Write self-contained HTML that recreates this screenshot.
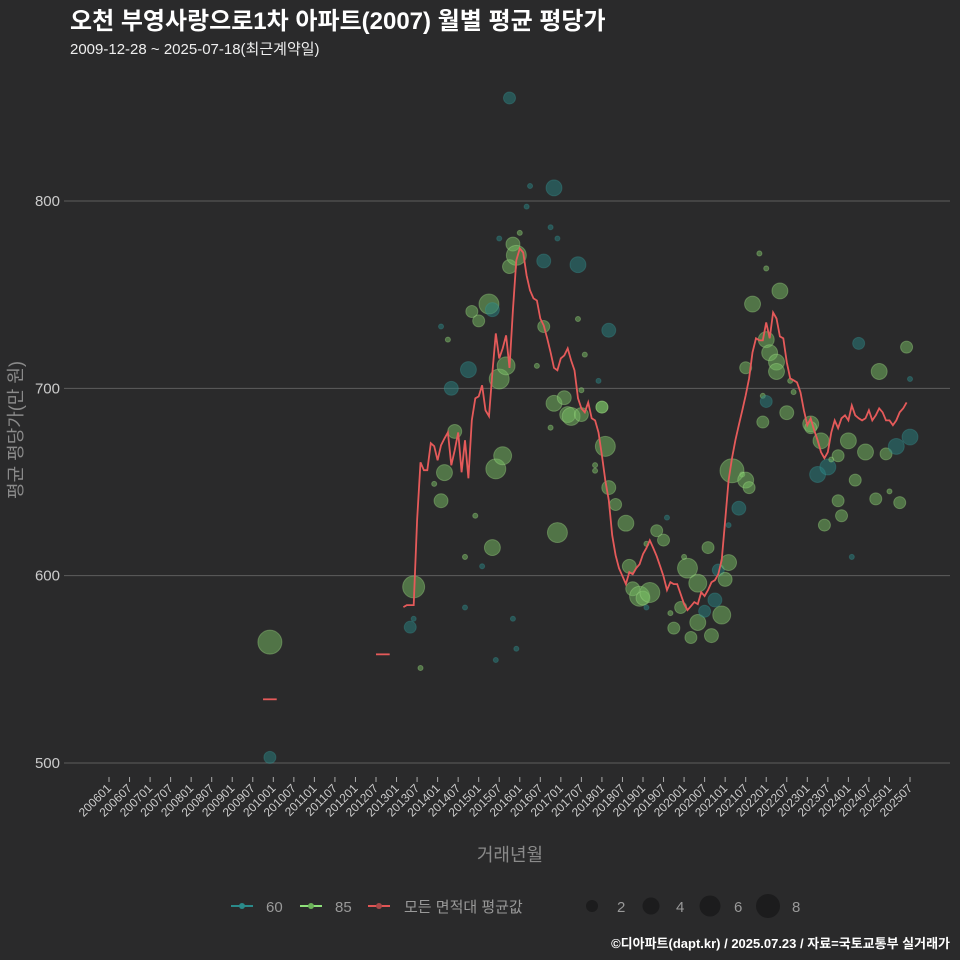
<!DOCTYPE html>
<html><head><meta charset="utf-8"><style>
html,body{margin:0;padding:0;background:#2a2a2b;}
svg{display:block;font-family:"Liberation Sans","Noto Sans CJK KR",sans-serif;}
</style></head><body>
<svg id="c" width="960" height="960" viewBox="0 0 960 960">
<rect x="0" y="0" width="960" height="960" fill="#2a2a2b"/>
<text x="70" y="29" fill="#ffffff" font-size="24" font-weight="bold">오천 부영사랑으로1차 아파트(2007) 월별 평균 평당가</text>
<text x="70" y="54" fill="#eeeeee" font-size="15">2009-12-28 ~ 2025-07-18(최근계약일)</text>
<text transform="translate(22,430) rotate(-90)" text-anchor="middle" fill="#8a8a8a" font-size="18">평균 평당가(만 원)</text>
<text x="510" y="861" text-anchor="middle" fill="#8a8a8a" font-size="18">거래년월</text>
<g id="grid"></g>
<g id="xaxis"></g>
<g id="bubbles"></g>
<g id="lines"></g>
<g>
 <g><line x1="231" y1="906" x2="253" y2="906" stroke="#2a8a8a" stroke-width="2"/><circle cx="242" cy="906" r="3" fill="#2a8a8a"/><text x="266" y="912" fill="#999" font-size="15">60</text></g>
 <g><line x1="300" y1="906" x2="322" y2="906" stroke="#8ee07a" stroke-width="2"/><circle cx="311" cy="906" r="3" fill="#6cb35a"/><text x="335" y="912" fill="#999" font-size="15">85</text></g>
 <g><line x1="368" y1="906" x2="390" y2="906" stroke="#e05555" stroke-width="2"/><circle cx="379" cy="906" r="3" fill="#a84848"/><text x="404" y="912" fill="#999" font-size="15">모든 면적대 평균값</text></g>
 <g>
  <circle cx="592" cy="906" r="6" fill="#1c1c1d"/><text x="617" y="912" fill="#999" font-size="15">2</text>
  <circle cx="651" cy="906" r="8.5" fill="#1c1c1d"/><text x="676" y="912" fill="#999" font-size="15">4</text>
  <circle cx="710" cy="906" r="10.5" fill="#1c1c1d"/><text x="734" y="912" fill="#999" font-size="15">6</text>
  <circle cx="768" cy="906" r="12" fill="#1c1c1d"/><text x="792" y="912" fill="#999" font-size="15">8</text>
 </g>
</g>
<text x="950" y="948" text-anchor="end" fill="#ffffff" font-size="13" font-weight="bold">©디아파트(dapt.kr) / 2025.07.23 / 자료=국토교통부 실거래가</text>
</svg>
<script>
const yTicks=[500,600,700,800];
const lineStart=86;
const lineValues=[583.2,584.3,584.3,584.3,629.6,660.5,656.3,656.3,670.7,669.1,661.6,669.6,673.3,676.5,658.9,666.9,676.5,655.2,672.3,652,682.9,694.7,695.7,701.6,688.3,685.1,708.5,729.3,716,721.3,728.3,710.9,741.6,768.3,774.7,772.5,760.3,752.3,748,746.9,737.3,733.6,726.7,719.2,710.9,709.6,716,717.6,721.3,714.9,709.6,694.7,689.3,687.2,692.5,684,682.9,676.5,664.3,650.9,640.3,621.6,610.9,604,599.7,595.5,601.9,600.8,604,606.1,611.5,614.7,618.9,614.7,610.4,605.1,599.7,592.3,596.5,595.5,595.5,590.1,584.8,581.6,583.7,585.9,584.8,591.2,589.1,592.3,596.5,597.6,600.8,608.3,629.6,650.9,662.7,672.3,680.3,688.3,696.3,705.3,719.2,726.7,725.6,725.6,735.2,726.7,740.5,737.3,727.7,726.7,713.9,705.3,704.3,703.2,697.9,688.3,680.3,684,677.6,672.3,665.9,662.7,665.9,676.5,682.9,678.7,684,685.6,682.9,690.9,685.6,684,682.9,684,688.3,682.9,685.6,689.3,687.2,682.9,682.9,680.3,682.9,687.2,689.3,692.5];
const segMonths=[[45,49],[78,82]];
const segValues=[534,558];
const bMonth=[47,47,89,88,89,91,95,97,98,97,99,100,101,104,104,105,106,108,107,109,111,112,112,113,114,113,114,115,116,117,117,118,119,118,119,120,122,123,125,127,127,129,130,130,131,131,129,133,134,135,137,137,138,138,139,142,142,143,144,146,144,145,146,148,151,152,153,155,156,157,158,157,160,162,163,164,165,167,168,169,170,172,172,174,175,176,177,178,179,180,181,181,184,182,185,186,186,187,188,190,191,191,192,192,192,193,195,196,195,198,199,200,205,205,207,208,209,210,211,213,213,214,216,217,218,219,221,224,225,227,228,230,231,233,234,234];
const bValue=[564.5,503,594,572.5,577,550.7,649,640,655,733,726,700,677,610,583,710,741,736,632,605,745,742,615,657,705,555,780,664,712,855,765,777,771,577,561,783,797,808,712,768,733,786,692,807,623,780,679,695,686,685,766,737,699,686,718,659,656,704,690,731,690,669,647,638,628,605,593,589,588,583,591,617,624,619,631,580,572,583,610,604,567,596,575,581,615,568,587,603,579,598,607,627,636,656,654,711,651,647,745,772,682,696,764,693,726,719,714,752,709,687,704,698,681,679,654,672,627,658,662,640,664,632,672,610,651,724,666,641,709,665,645,669,639,722,674,705];
const bSize=[6.8,1.7,5.7,1.7,0.3,0.3,0.3,2.3,3,0.3,0.3,2.3,2.3,0.3,0.3,3,1.7,1.7,0.3,0.3,4.7,2.3,3,4.7,4.7,0.3,0.3,3.8,3.8,1.7,2.3,2.3,4.7,0.3,0.3,0.3,0.3,0.3,0.3,2.3,1.7,0.3,3,3,4.7,0.3,0.3,2.3,3,3.8,3,0.3,0.3,2.3,0.3,0.3,0.3,0.3,1.7,2.3,1.7,4.7,2.3,1.7,3,2.3,2.3,4.7,2.3,0.3,4.7,0.3,1.7,1.7,0.3,0.3,1.7,1.7,0.3,4.7,1.7,3.8,3,1.7,1.7,2.3,2.3,1.7,3.8,2.3,3,0.3,2.3,6.8,0.3,1.7,3,1.7,3,0.3,1.7,0.3,0.3,1.7,3,3,3,3,3,2.3,0.3,0.3,3,1.7,3,3,1.7,3,0.3,1.7,1.7,1.7,3,0.3,1.7,1.7,3,1.7,3,1.7,0.3,3,1.7,1.7,3,0.3];
const bType=["85","60","85","60","60","85","85","85","85","60","85","60","85","85","60","60","85","85","85","60","85","60","85","85","85","60","60","85","85","60","85","85","85","60","60","85","60","60","85","60","85","60","85","60","85","60","85","85","85","85","60","85","85","85","85","85","85","60","85","60","85","85","85","85","85","85","85","85","85","60","85","85","85","85","60","85","85","85","85","85","85","85","85","60","85","85","60","60","85","85","85","60","60","85","85","85","85","85","85","85","85","85","85","60","85","85","85","85","85","85","85","85","85","85","60","85","85","60","85","85","85","85","85","60","85","60","85","85","85","85","85","60","85","85","60","60"];
const xLabels=[];for(let y=2006;y<=2025;y++){xLabels.push(y+"01");xLabels.push(y+"07");}

const NS="http://www.w3.org/2000/svg";
const X0=109,X1=910,M1=234,Y0=763,Y1=201;
function xs(m){return X0+(X1-X0)*m/M1;}
function ys(v){return Y0-(v-500)*(Y0-Y1)/300;}
function mk(t,a,p){const e=document.createElementNS(NS,t);for(const k in a)e.setAttribute(k,a[k]);p.appendChild(e);return e;}
const grid=document.getElementById('grid');
yTicks.forEach(v=>{
 const l=mk('line',{x1:64,x2:950,y1:ys(v),y2:ys(v),stroke:'#5e5e5e','stroke-width':1},grid);
 
 
 const t=mk('text',{x:60,y:ys(v)+5,'text-anchor':'end',fill:'#cccccc','font-size':15},grid);
 
 
 t.textContent=v;
});
const xa=document.getElementById('xaxis');
xLabels.forEach((s,i)=>{
 const x=xs(i*6);
 const l=mk('line',{x1:x,x2:x,y1:777,y2:782,stroke:'#aaa','stroke-width':1},xa);
 
 
 const t=mk('text',{transform:`translate(${x+3},${789}) rotate(-45)`,'text-anchor':'end',fill:'#cccccc','font-size':12},xa);
 
 
 t.textContent=s;
});
const bg=document.getElementById('bubbles');
bMonth.forEach((m,i)=>{
 const g=bType[i]==="85";
 const c=mk('circle',{cx:xs(m),cy:ys(bValue[i]),r:Math.sqrt(bSize[i])*4.6,fill:g?'rgba(120,190,100,0.5)':'rgba(40,130,130,0.5)',stroke:g?'rgba(170,230,140,0.35)':'rgba(60,160,160,0.3)','stroke-width':1},bg);
 
 
});
const lg=document.getElementById('lines');
const pts=lineValues.map((v,i)=>xs(lineStart+i).toFixed(1)+','+ys(v).toFixed(1)).join(' ');
const pl=mk('polyline',{points:pts,fill:'none',stroke:'#e55a5a','stroke-width':1.8},lg);


segMonths.forEach((s,i)=>{
 const l=mk('line',{x1:xs(s[0]),x2:xs(s[1]),y1:ys(segValues[i]),y2:ys(segValues[i]),stroke:'#e55a5a','stroke-width':1.8},lg);
 
 
});
</script>
</body></html>
